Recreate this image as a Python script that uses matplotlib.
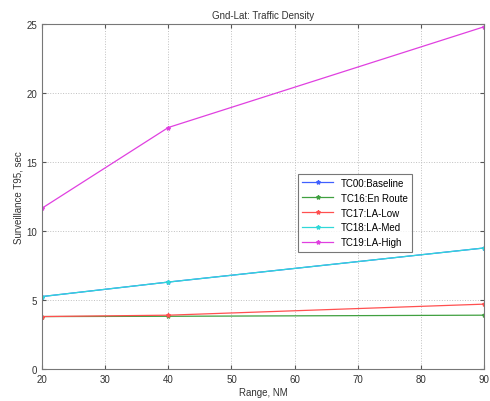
import matplotlib
matplotlib.use("Agg")
import matplotlib.pyplot as plt

ranges = [20, 40, 90]
tc00 = [5.25, 6.3, 8.77]
tc16 = [3.8, 3.82, 3.9]
tc17 = [3.8, 3.9, 4.7]
tc18 = [5.25, 6.3, 8.77]
tc19 = [11.65, 17.5, 24.8]
labels = ["TC00:Baseline", "TC16:En Route", "TC17:LA-Low", "TC18:LA-Med", "TC19:LA-High"]
colors = ["#4060ff", "#40a040", "#ff5050", "#30d8d8", "#e040e0"]
xticks = [20, 30, 40, 50, 60, 70, 80, 90]
yticks = [0, 5, 10, 15, 20, 25]

plt.rcParams['font.family'] = ['Liberation Sans', 'DejaVu Sans']
fig = plt.figure(figsize=(4.9, 4.02), dpi=100)
ax = fig.add_axes([0.0857, 0.0796, 0.9023, 0.8582])
for ys, lab, c in zip([tc00, tc16, tc17, tc18, tc19], labels, colors):
    ax.plot(ranges, ys, color=c, marker='*', markersize=3, linewidth=0.9, label=lab)
ax.set_xlim(20, 90)
ax.set_ylim(0, 25)
ax.set_xticks(xticks)
ax.set_yticks(yticks)
ax.grid(True, linestyle=':', color='#c0c0c0', linewidth=0.7)
ax.tick_params(labelsize=7, direction='in', length=3, color='#555555', labelcolor='#333333', top=True, right=True)
for s in ax.spines.values():
    s.set_color('#777777')
ax.set_xlabel("Range, NM", fontsize=7, color='#333333', labelpad=2)
ax.set_ylabel("Surveillance T95, sec", fontsize=7, color='#333333', labelpad=2)
ax.set_title("Gnd-Lat: Traffic Density", fontsize=7, color='#333333', pad=4)
leg = ax.legend(loc='upper left', bbox_to_anchor=(0.598, 0.578), bbox_transform=fig.transFigure,
                fontsize=7, fancybox=False, edgecolor='#555555', borderpad=0.45, labelspacing=0.5,
                handlelength=3.2)
leg.get_frame().set_linewidth(0.8)
fig.savefig("out.png", dpi=100)
